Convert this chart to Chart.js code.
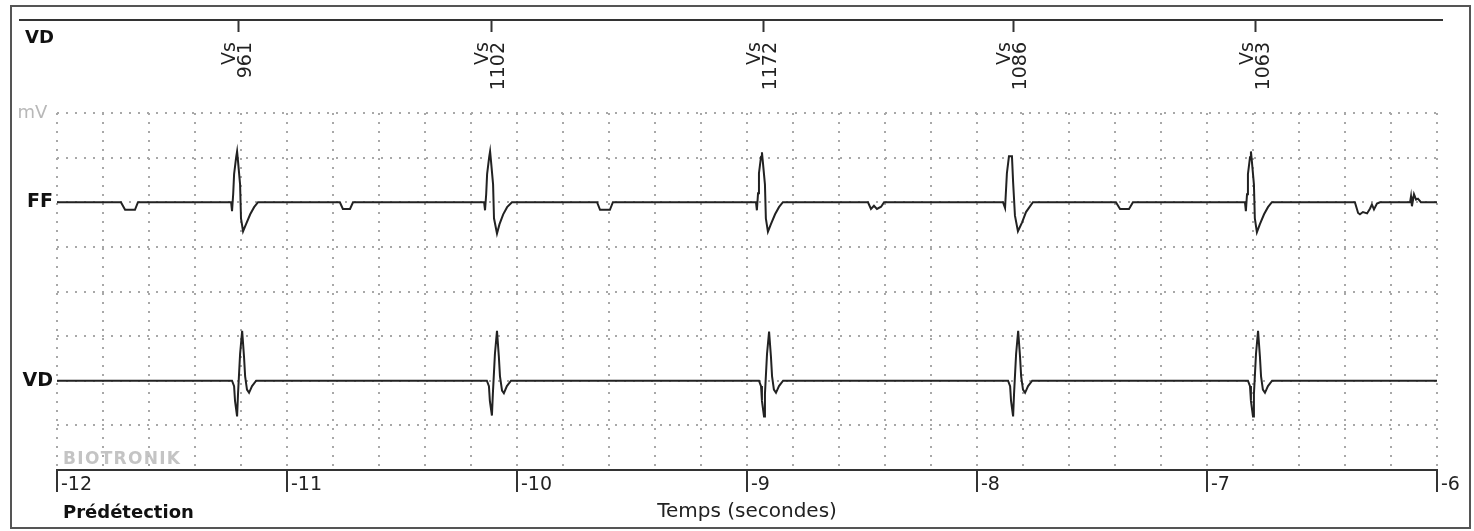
<!DOCTYPE html>
<html lang="fr">
<head>
<meta charset="utf-8">
<title>Prédétection VD / FF</title>
<script src="https://cdn.jsdelivr.net/npm/chart.js@4.4.1/dist/chart.umd.min.js"></script>
<style>
  html, body { margin: 0; padding: 0; background: #fff; }
  body { width: 1474px; height: 531px; position: relative; overflow: hidden; font-family: "DejaVu Sans", Verdana, sans-serif; }
  canvas { position: absolute; left: 0; top: 0; }
  .frame { position: absolute; left: 10px; top: 5px; width: 1457px; height: 520px; border: 2px solid #555; }
  .txt { position: absolute; white-space: nowrap; line-height: 20px; }
  #vd-top { left: 25px; top: 27px; font-weight: bold; font-size: 18px; color: #111; }
  #brand { left: 63px; top: 448px; font-weight: bold; font-size: 17px; letter-spacing: 1.3px; color: #c4c4c4; }
  #mode { left: 63px; top: 502px; font-weight: bold; font-size: 18px; color: #111; }
</style>
</head>
<body>
<div class="frame"></div>
<canvas id="ecg" width="1474" height="531" style="width:1474px;height:531px"></canvas>
<canvas id="events" width="1474" height="100" style="width:1474px;height:100px"></canvas>
<div class="txt" id="vd-top">VD</div>
<div class="txt" id="brand">BIOTRONIK</div>
<div class="txt" id="mode">Prédétection</div>

<script>

// marker channel: detected ventricular events, time (s) and interval (ms)
const eventTimes = [-11.213, -10.113, -8.930, -7.843, -6.787];
const eventCodes = ['Vs', 'Vs', 'Vs', 'Vs', 'Vs'];
const eventIntervals = [961, 1102, 1172, 1086, 1063];

const traceNames = ['FF', 'VD'];

// far-field channel: [time s, amplitude]
const ffTrace = [
    [-12.000, 0],
    [-11.722, 0], [-11.704, -0.17], [-11.661, -0.17], [-11.648, 0],
    [-11.243, 0], [-11.239, -0.20], [-11.234, 0.18], [-11.230, 0.63], [-11.221, 1.01], [-11.217, 1.14],
    [-11.213, 0.92], [-11.204, 0.40], [-11.200, -0.36], [-11.191, -0.65], [-11.178, -0.49],
    [-11.160, -0.27], [-11.143, -0.11], [-11.126, 0],
    [-10.770, 0], [-10.757, -0.15], [-10.726, -0.15], [-10.713, 0],
    [-10.143, 0], [-10.139, -0.18], [-10.134, 0.18], [-10.130, 0.63], [-10.121, 1.01], [-10.117, 1.14],
    [-10.113, 0.92], [-10.104, 0.40], [-10.100, -0.36], [-10.087, -0.70], [-10.076, -0.49],
    [-10.060, -0.27], [-10.043, -0.11], [-10.022, 0],
    [-9.652, 0], [-9.639, -0.17], [-9.596, -0.17], [-9.583, 0],
    [-8.961, 0], [-8.957, -0.18], [-8.952, 0.20], [-8.948, 0.65], [-8.939, 1.02], [-8.935, 1.12],
    [-8.931, 0.90], [-8.922, 0.40], [-8.918, -0.36], [-8.909, -0.66], [-8.896, -0.49],
    [-8.878, -0.27], [-8.861, -0.11], [-8.844, 0],
    [-8.474, 0], [-8.461, -0.15], [-8.448, -0.08], [-8.435, -0.15], [-8.417, -0.10], [-8.404, 0],
    [-7.887, 0], [-7.878, -0.13], [-7.870, 0.65], [-7.861, 1.03], [-7.848, 1.03], [-7.843, 0.45],
    [-7.835, -0.30], [-7.822, -0.65], [-7.804, -0.45], [-7.787, -0.22], [-7.757, 0],
    [-7.396, 0], [-7.378, -0.15], [-7.339, -0.15], [-7.322, 0],
    [-6.835, 0], [-6.831, -0.20], [-6.826, 0.18], [-6.822, 0.63], [-6.813, 1.01], [-6.809, 1.14],
    [-6.805, 0.92], [-6.796, 0.40], [-6.792, -0.36], [-6.783, -0.67], [-6.770, -0.49],
    [-6.752, -0.27], [-6.735, -0.11], [-6.718, 0],
    [-6.357, 0], [-6.343, -0.24], [-6.335, -0.27], [-6.322, -0.22], [-6.304, -0.25], [-6.291, -0.14],
    [-6.283, -0.05], [-6.274, -0.16], [-6.261, -0.03], [-6.248, 0],
    [-6.117, 0], [-6.113, 0.13], [-6.109, -0.09], [-6.100, 0.18], [-6.091, 0.06], [-6.083, 0.08],
    [-6.070, 0], [-6.000, 0]
];

// right ventricle channel: [time s, amplitude]
const vdTrace = [
    [-12.000, 0],
    [-11.239, 0], [-11.230, -0.12], [-11.226, -0.45], [-11.217, -0.80], [-11.213, -0.30], [-11.204, 0.60],
    [-11.195, 1.12], [-11.187, 0.55], [-11.182, 0.10], [-11.174, -0.20], [-11.165, -0.27],
    [-11.152, -0.12], [-11.134, 0],
    [-10.131, 0], [-10.122, -0.12], [-10.118, -0.45], [-10.109, -0.78], [-10.105, -0.30], [-10.096, 0.60],
    [-10.087, 1.12], [-10.079, 0.55], [-10.074, 0.10], [-10.065, -0.22], [-10.057, -0.28],
    [-10.044, -0.12], [-10.026, 0],
    [-8.948, 0], [-8.939, -0.12], [-8.935, -0.45], [-8.926, -0.80], [-8.922, -0.30], [-8.913, 0.60],
    [-8.904, 1.10], [-8.896, 0.55], [-8.891, 0.10], [-8.883, -0.20], [-8.874, -0.27],
    [-8.861, -0.12], [-8.843, 0],
    [-7.865, 0], [-7.856, -0.12], [-7.852, -0.45], [-7.843, -0.80], [-7.839, -0.30], [-7.830, 0.60],
    [-7.821, 1.12], [-7.813, 0.55], [-7.808, 0.10], [-7.800, -0.20], [-7.791, -0.27],
    [-7.778, -0.12], [-7.760, 0],
    [-6.822, 0], [-6.813, -0.12], [-6.809, -0.45], [-6.800, -0.80], [-6.796, -0.30], [-6.787, 0.60],
    [-6.778, 1.12], [-6.770, 0.55], [-6.765, 0.10], [-6.757, -0.20], [-6.748, -0.27],
    [-6.735, -0.12], [-6.717, 0],
    [-6.000, 0]
];

// ---------- Helpers ----------

const FONT = '"DejaVu Sans", Verdana, sans-serif';
const DOTS = [2, 7];

function isWhole(v) {
    return Math.abs(v - Math.round(v)) < 1e-6;
}

function toPoints(trace, offset) {
    return trace.map(p => ({ x: p[0], y: p[1] + offset }));
}

function traceDataset(label, data) {
    return {
        label,
        data,
        borderColor: '#222',
        borderWidth: 2,
        pointRadius: 0,
        tension: 0,
        fill: false
    };
}

// ---------- Strip chart ----------

new Chart(document.getElementById('ecg'), {
    type: 'line',
    data: {
        datasets: [
            traceDataset(traceNames[0], toPoints(ffTrace, 2)),
            traceDataset(traceNames[1], toPoints(vdTrace, -2))
        ]
    },
    options: {
        responsive: false,
        animation: false,
        devicePixelRatio: 1,
        layout: { padding: { left: 0, top: 113, right: 37, bottom: 7 } },
        plugins: { legend: { display: false }, tooltip: { enabled: false } },
        scales: {
            x: {
                type: 'linear',
                min: -12,
                max: -6,
                ticks: {
                    stepSize: 0.2,
                    autoSkip: false,
                    maxRotation: 0,
                    align: 'start',
                    labelOffset: 4,
                    padding: -18,
                    color: '#222',
                    font: { family: FONT, size: 19 },
                    callback: v => isWhole(v) ? String(Math.round(v)) : ''
                },
                grid: {
                    color: '#a8a8a8',
                    lineWidth: 2,
                    drawTicks: true,
                    tickLength: 22,
                    tickWidth: 2,
                    tickColor: ctx => (ctx.tick && isWhole(ctx.tick.value)) ? '#333' : 'rgba(0,0,0,0)'
                },
                border: { display: true, color: '#333', width: 2, dash: DOTS },
                title: {
                    display: true,
                    text: 'Temps (secondes)',
                    color: '#222',
                    font: { family: FONT, size: 20 },
                    padding: 0
                },
                afterFit: scale => { scale.height = 54; }
            },
            y: {
                min: -4,
                max: 4,
                ticks: {
                    stepSize: 1,
                    padding: 4,
                    callback: v => v === 4 ? 'mV ' : v === 2 ? traceNames[0] : v === -2 ? traceNames[1] : '',
                    color: ctx => (ctx.tick && ctx.tick.value === 4) ? '#b8b8b8' : '#111',
                    font: ctx => ({
                        family: FONT,
                        size: (ctx.tick && ctx.tick.value === 4) ? 18 : 19,
                        weight: (ctx.tick && ctx.tick.value === 4) ? 'normal' : 'bold'
                    })
                },
                grid: { color: '#a8a8a8', lineWidth: 2, drawTicks: false },
                border: { display: false, dash: DOTS },
                afterFit: scale => { scale.width = 57; }
            }
        }
    }
});

// ---------- Marker channel ----------

new Chart(document.getElementById('events'), {
    type: 'scatter',
    data: {
        datasets: [{ data: eventTimes.map(t => ({ x: t, y: 0 })), pointRadius: 0 }]
    },
    options: {
        responsive: false,
        animation: false,
        devicePixelRatio: 1,
        layout: { padding: { left: 20, right: 32, top: 0, bottom: 0 } },
        plugins: { legend: { display: false }, tooltip: { enabled: false } },
        scales: {
            x: {
                type: 'linear',
                min: -12.161,
                max: -5.978,
                afterBuildTicks: scale => {
                    scale.ticks = eventTimes.map(v => ({ value: v }));
                },
                ticks: {
                    autoSkip: false,
                    minRotation: 90,
                    maxRotation: 90,
                    padding: 10,
                    labelOffset: -8,
                    color: '#222',
                    font: { family: FONT, size: 19, lineHeight: 0.85 },
                    callback: (v, i) => [eventCodes[i], String(eventIntervals[i])]
                },
                grid: {
                    drawOnChartArea: false,
                    drawTicks: true,
                    tickLength: 12,
                    tickWidth: 2,
                    tickColor: '#333'
                },
                border: { display: true, color: '#333', width: 2 },
                afterFit: scale => { scale.height = 80; }
            },
            y: { display: false, min: -1, max: 1 }
        }
    }
});
</script>
</body>
</html>
